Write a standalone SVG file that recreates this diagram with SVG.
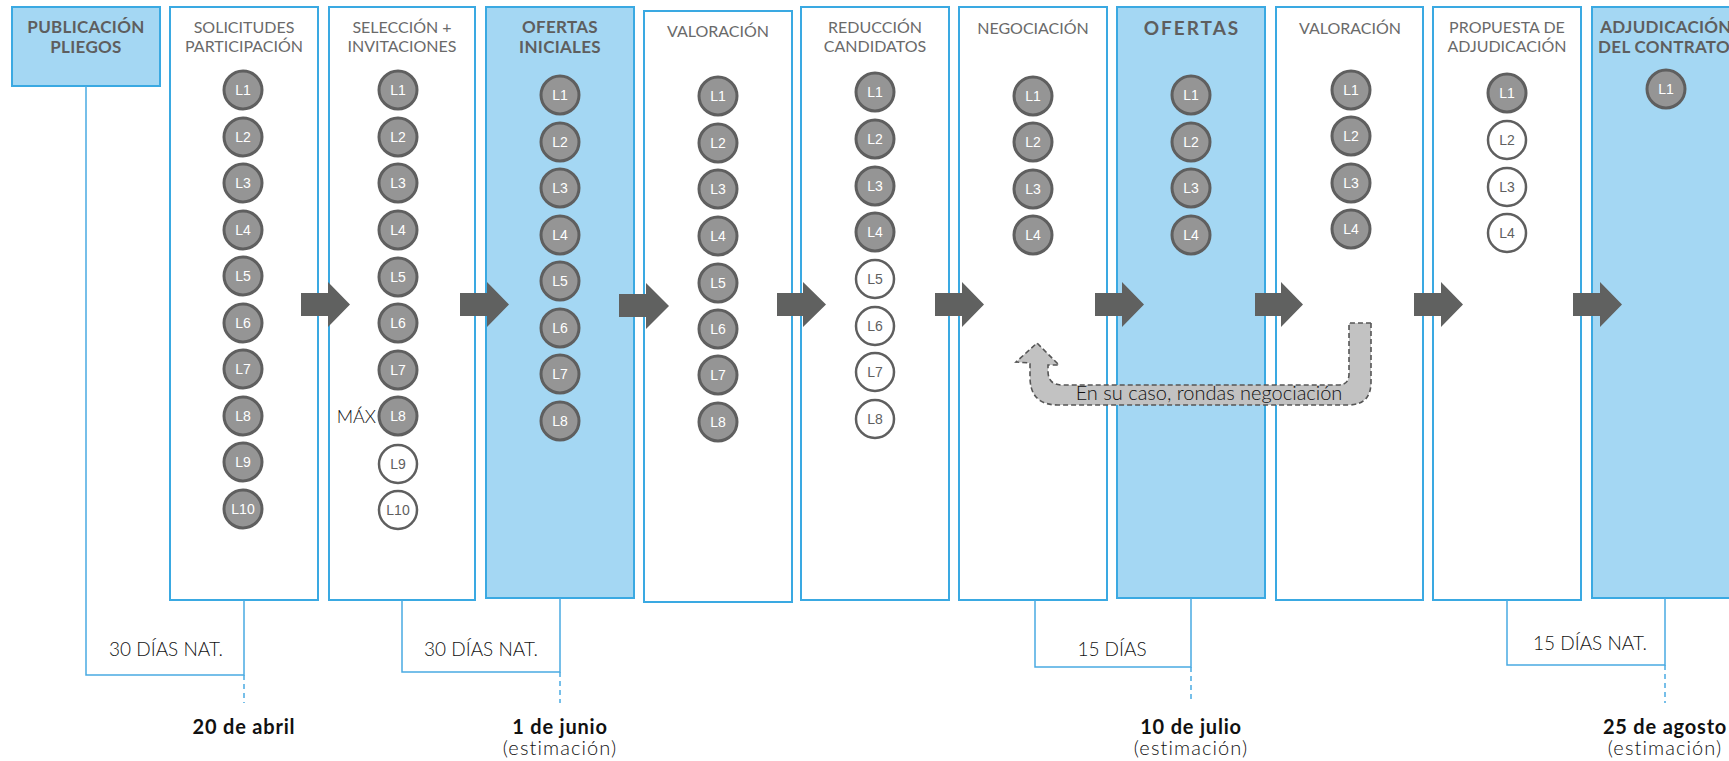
<svg xmlns="http://www.w3.org/2000/svg" width="1729" height="761" viewBox="0 0 1729 761">
<style>
.box{fill:#ffffff;stroke:#3aa9e2;stroke-width:2}
.hl{fill:#a4d7f3;stroke:#3aa9e2;stroke-width:2}
.t{font-family:Lato,"Liberation Sans",sans-serif;font-size:16px;font-weight:400;fill:#6a6a6a;text-anchor:middle}
.tb{font-family:Lato,"Liberation Sans",sans-serif;font-size:17px;font-weight:bold;fill:#5e5e5e;text-anchor:middle;letter-spacing:0.3px}
.c{fill:#959595;stroke:#5f5f5f;stroke-width:3}
.e{fill:#ffffff;stroke:#5f5f5f;stroke-width:2.5}
.ct{font-family:"Liberation Sans",Arial,sans-serif;font-size:14px;fill:#ffffff;text-anchor:middle}
.et{font-family:"Liberation Sans",Arial,sans-serif;font-size:14px;fill:#5f5f5f;text-anchor:middle}
.arr{fill:#606160}
.ln{fill:none;stroke:#4aabe2;stroke-width:1.5}
.dl{fill:none;stroke:#4aabe2;stroke-width:1.5;stroke-dasharray:5,4}
.lab{font-family:Lato,"Liberation Sans",sans-serif;font-size:19px;font-weight:300;fill:#111111;text-anchor:middle}
.dt{font-family:Lato,"Liberation Sans",sans-serif;font-size:20px;font-weight:bold;fill:#111111;text-anchor:middle;letter-spacing:0.8px}
.de{font-family:Lato,"Liberation Sans",sans-serif;font-size:20px;font-weight:300;fill:#111111;text-anchor:middle;letter-spacing:1.1px}
</style>

<g id="publicacion">
<rect class="hl" x="12" y="7" width="148" height="79"/>
<text class="tb" x="86" y="33">PUBLICACIÓN</text>
<text class="tb" x="86" y="53">PLIEGOS</text>
</g>

<g id="solicitudes">
<rect class="box" x="170" y="7" width="148" height="593"/>
<text class="t" x="244" y="33">SOLICITUDES</text>
<text class="t" x="244" y="52">PARTICIPACIÓN</text>
<circle class="c" cx="243" cy="90" r="19"/><text class="ct" x="243" y="95">L1</text>
<circle class="c" cx="243" cy="137" r="19"/><text class="ct" x="243" y="142">L2</text>
<circle class="c" cx="243" cy="183" r="19"/><text class="ct" x="243" y="188">L3</text>
<circle class="c" cx="243" cy="230" r="19"/><text class="ct" x="243" y="235">L4</text>
<circle class="c" cx="243" cy="276" r="19"/><text class="ct" x="243" y="281">L5</text>
<circle class="c" cx="243" cy="323" r="19"/><text class="ct" x="243" y="328">L6</text>
<circle class="c" cx="243" cy="369" r="19"/><text class="ct" x="243" y="374">L7</text>
<circle class="c" cx="243" cy="416" r="19"/><text class="ct" x="243" y="421">L8</text>
<circle class="c" cx="243" cy="462" r="19"/><text class="ct" x="243" y="467">L9</text>
<circle class="c" cx="243" cy="509" r="19"/><text class="ct" x="243" y="514">L10</text>
</g>

<g id="seleccion">
<rect class="box" x="329" y="7" width="146" height="593"/>
<text class="t" x="402" y="33">SELECCIÓN +</text>
<text class="t" x="402" y="52">INVITACIONES</text>
<circle class="c" cx="398" cy="90" r="19"/><text class="ct" x="398" y="95">L1</text>
<circle class="c" cx="398" cy="137" r="19"/><text class="ct" x="398" y="142">L2</text>
<circle class="c" cx="398" cy="183" r="19"/><text class="ct" x="398" y="188">L3</text>
<circle class="c" cx="398" cy="230" r="19"/><text class="ct" x="398" y="235">L4</text>
<circle class="c" cx="398" cy="277" r="19"/><text class="ct" x="398" y="282">L5</text>
<circle class="c" cx="398" cy="323" r="19"/><text class="ct" x="398" y="328">L6</text>
<circle class="c" cx="398" cy="370" r="19"/><text class="ct" x="398" y="375">L7</text>
<circle class="c" cx="398" cy="416" r="19"/><text class="ct" x="398" y="421">L8</text>
<circle class="e" cx="398" cy="464" r="19"/><text class="et" x="398" y="469">L9</text>
<circle class="e" cx="398" cy="510" r="19"/><text class="et" x="398" y="515">L10</text>
<text x="376" y="423" style="font-family:Lato,'Liberation Sans',sans-serif;font-size:18px;font-weight:300;fill:#111;text-anchor:end">MÁX</text>
</g>

<g id="ofertas-iniciales">
<rect class="hl" x="486" y="7" width="148" height="591"/>
<text class="tb" x="560" y="33">OFERTAS</text>
<text class="tb" x="560" y="53">INICIALES</text>
<circle class="c" cx="560" cy="95" r="19"/><text class="ct" x="560" y="100">L1</text>
<circle class="c" cx="560" cy="142" r="19"/><text class="ct" x="560" y="147">L2</text>
<circle class="c" cx="560" cy="188" r="19"/><text class="ct" x="560" y="193">L3</text>
<circle class="c" cx="560" cy="235" r="19"/><text class="ct" x="560" y="240">L4</text>
<circle class="c" cx="560" cy="281" r="19"/><text class="ct" x="560" y="286">L5</text>
<circle class="c" cx="560" cy="328" r="19"/><text class="ct" x="560" y="333">L6</text>
<circle class="c" cx="560" cy="374" r="19"/><text class="ct" x="560" y="379">L7</text>
<circle class="c" cx="560" cy="421" r="19"/><text class="ct" x="560" y="426">L8</text>
</g>

<g id="valoracion-1">
<rect class="box" x="644" y="11" width="148" height="591"/>
<text class="t" x="718" y="37">VALORACIÓN</text>
<circle class="c" cx="718" cy="96" r="19"/><text class="ct" x="718" y="101">L1</text>
<circle class="c" cx="718" cy="143" r="19"/><text class="ct" x="718" y="148">L2</text>
<circle class="c" cx="718" cy="189" r="19"/><text class="ct" x="718" y="194">L3</text>
<circle class="c" cx="718" cy="236" r="19"/><text class="ct" x="718" y="241">L4</text>
<circle class="c" cx="718" cy="283" r="19"/><text class="ct" x="718" y="288">L5</text>
<circle class="c" cx="718" cy="329" r="19"/><text class="ct" x="718" y="334">L6</text>
<circle class="c" cx="718" cy="375" r="19"/><text class="ct" x="718" y="380">L7</text>
<circle class="c" cx="718" cy="422" r="19"/><text class="ct" x="718" y="427">L8</text>
</g>

<g id="reduccion">
<rect class="box" x="801" y="7" width="148" height="593"/>
<text class="t" x="875" y="33">REDUCCIÓN</text>
<text class="t" x="875" y="52">CANDIDATOS</text>
<circle class="c" cx="875" cy="92" r="19"/><text class="ct" x="875" y="97">L1</text>
<circle class="c" cx="875" cy="139" r="19"/><text class="ct" x="875" y="144">L2</text>
<circle class="c" cx="875" cy="186" r="19"/><text class="ct" x="875" y="191">L3</text>
<circle class="c" cx="875" cy="232" r="19"/><text class="ct" x="875" y="237">L4</text>
<circle class="e" cx="875" cy="279" r="19"/><text class="et" x="875" y="284">L5</text>
<circle class="e" cx="875" cy="326" r="19"/><text class="et" x="875" y="331">L6</text>
<circle class="e" cx="875" cy="372" r="19"/><text class="et" x="875" y="377">L7</text>
<circle class="e" cx="875" cy="419" r="19"/><text class="et" x="875" y="424">L8</text>
</g>

<g id="negociacion">
<rect class="box" x="959" y="7" width="148" height="593"/>
<text class="t" x="1033" y="34">NEGOCIACIÓN</text>
<circle class="c" cx="1033" cy="96" r="19"/><text class="ct" x="1033" y="101">L1</text>
<circle class="c" cx="1033" cy="142" r="19"/><text class="ct" x="1033" y="147">L2</text>
<circle class="c" cx="1033" cy="189" r="19"/><text class="ct" x="1033" y="194">L3</text>
<circle class="c" cx="1033" cy="235" r="19"/><text class="ct" x="1033" y="240">L4</text>
</g>

<g id="ofertas">
<rect class="hl" x="1117" y="7" width="148" height="591"/>
<text class="tb" x="1192" y="35" style="font-size:19px;letter-spacing:2px">OFERTAS</text>
<circle class="c" cx="1191" cy="95" r="19"/><text class="ct" x="1191" y="100">L1</text>
<circle class="c" cx="1191" cy="142" r="19"/><text class="ct" x="1191" y="147">L2</text>
<circle class="c" cx="1191" cy="188" r="19"/><text class="ct" x="1191" y="193">L3</text>
<circle class="c" cx="1191" cy="235" r="19"/><text class="ct" x="1191" y="240">L4</text>
</g>

<g id="valoracion-2">
<rect class="box" x="1276" y="7" width="147" height="593"/>
<text class="t" x="1350" y="34">VALORACIÓN</text>
<circle class="c" cx="1351" cy="90" r="19"/><text class="ct" x="1351" y="95">L1</text>
<circle class="c" cx="1351" cy="136" r="19"/><text class="ct" x="1351" y="141">L2</text>
<circle class="c" cx="1351" cy="183" r="19"/><text class="ct" x="1351" y="188">L3</text>
<circle class="c" cx="1351" cy="229" r="19"/><text class="ct" x="1351" y="234">L4</text>
</g>

<g id="propuesta">
<rect class="box" x="1433" y="7" width="148" height="593"/>
<text class="t" x="1507" y="33">PROPUESTA DE</text>
<text class="t" x="1507" y="52">ADJUDICACIÓN</text>
<circle class="c" cx="1507" cy="93" r="19"/><text class="ct" x="1507" y="98">L1</text>
<circle class="e" cx="1507" cy="140" r="19"/><text class="et" x="1507" y="145">L2</text>
<circle class="e" cx="1507" cy="187" r="19"/><text class="et" x="1507" y="192">L3</text>
<circle class="e" cx="1507" cy="233" r="19"/><text class="et" x="1507" y="238">L4</text>
</g>

<g id="adjudicacion">
<rect class="hl" x="1592" y="7" width="148" height="591"/>
<text class="tb" x="1666" y="33">ADJUDICACIÓN</text>
<text class="tb" x="1664" y="53">DEL CONTRATO</text>
<circle class="c" cx="1666" cy="89" r="19"/><text class="ct" x="1666" y="94">L1</text>
</g>

<g id="connectors">
<polygon class="arr" points="301,293 328,293 328,282 350,304.5 328,327 328,316 301,316"/>
<polygon class="arr" points="460,293 487,293 487,282 509,304.5 487,327 487,316 460,316"/>
<polygon class="arr" points="619,294 646,294 646,283 669,306 646,329 646,317 619,317"/>
<polygon class="arr" points="777,293 803,293 803,282 826,304.5 803,327 803,316 777,316"/>
<polygon class="arr" points="935,293 962,293 962,282 984,304.5 962,327 962,316 935,316"/>
<polygon class="arr" points="1095,293 1122,293 1122,282 1144,304.5 1122,327 1122,316 1095,316"/>
<polygon class="arr" points="1255,293 1281,293 1281,282 1303,304.5 1281,327 1281,316 1255,316"/>
<polygon class="arr" points="1414,293 1441,293 1441,282 1463,304.5 1441,327 1441,316 1414,316"/>
<polygon class="arr" points="1573,293 1600,293 1600,282 1622,304.5 1600,327 1600,316 1573,316"/>

<path d="M1371,323 L1371,382 Q1371,405 1348,405 L1058,405 Q1030,405 1030,377 L1030,363 L1016,362 L1037,343 L1059,365 L1048,365 L1048,371 Q1048,385 1062,385 L1338,385 Q1349,385 1349,374 L1349,323 Z" fill="#c2c2c2" stroke="#555555" stroke-width="1.6" stroke-dasharray="5,3"/>
<text x="1209" y="400" style="font-family:Lato,'Liberation Sans',sans-serif;font-size:20px;font-weight:300;fill:#111111;text-anchor:middle">En su caso, rondas negociación</text>

<path class="ln" d="M86,86 L86,675 L244,675 L244,600"/>
<path class="dl" d="M244,675 L244,703"/>
<path class="ln" d="M402,600 L402,672 L560,672 L560,598"/>
<path class="dl" d="M560,672 L560,703"/>
<path class="ln" d="M1035,600 L1035,667 L1191,667 L1191,598"/>
<path class="dl" d="M1191,667 L1191,703"/>
<path class="ln" d="M1507,600 L1507,665 L1665,665 L1665,598"/>
<path class="dl" d="M1665,665 L1665,703"/>
</g>

<g id="labels">
<text class="lab" x="166" y="656">30 DÍAS NAT.</text>
<text class="lab" x="481" y="656">30 DÍAS NAT.</text>
<text class="lab" x="1112" y="656">15 DÍAS</text>
<text class="lab" x="1590" y="650">15 DÍAS NAT.</text>
<text class="dt" x="244" y="734">20 de abril</text>
<text class="dt" x="560" y="734">1 de junio</text>
<text class="de" x="560" y="755">(estimación)</text>
<text class="dt" x="1191" y="734">10 de julio</text>
<text class="de" x="1191" y="755">(estimación)</text>
<text class="dt" x="1665" y="734">25 de agosto</text>
<text class="de" x="1665" y="755">(estimación)</text>
</g>
</svg>
